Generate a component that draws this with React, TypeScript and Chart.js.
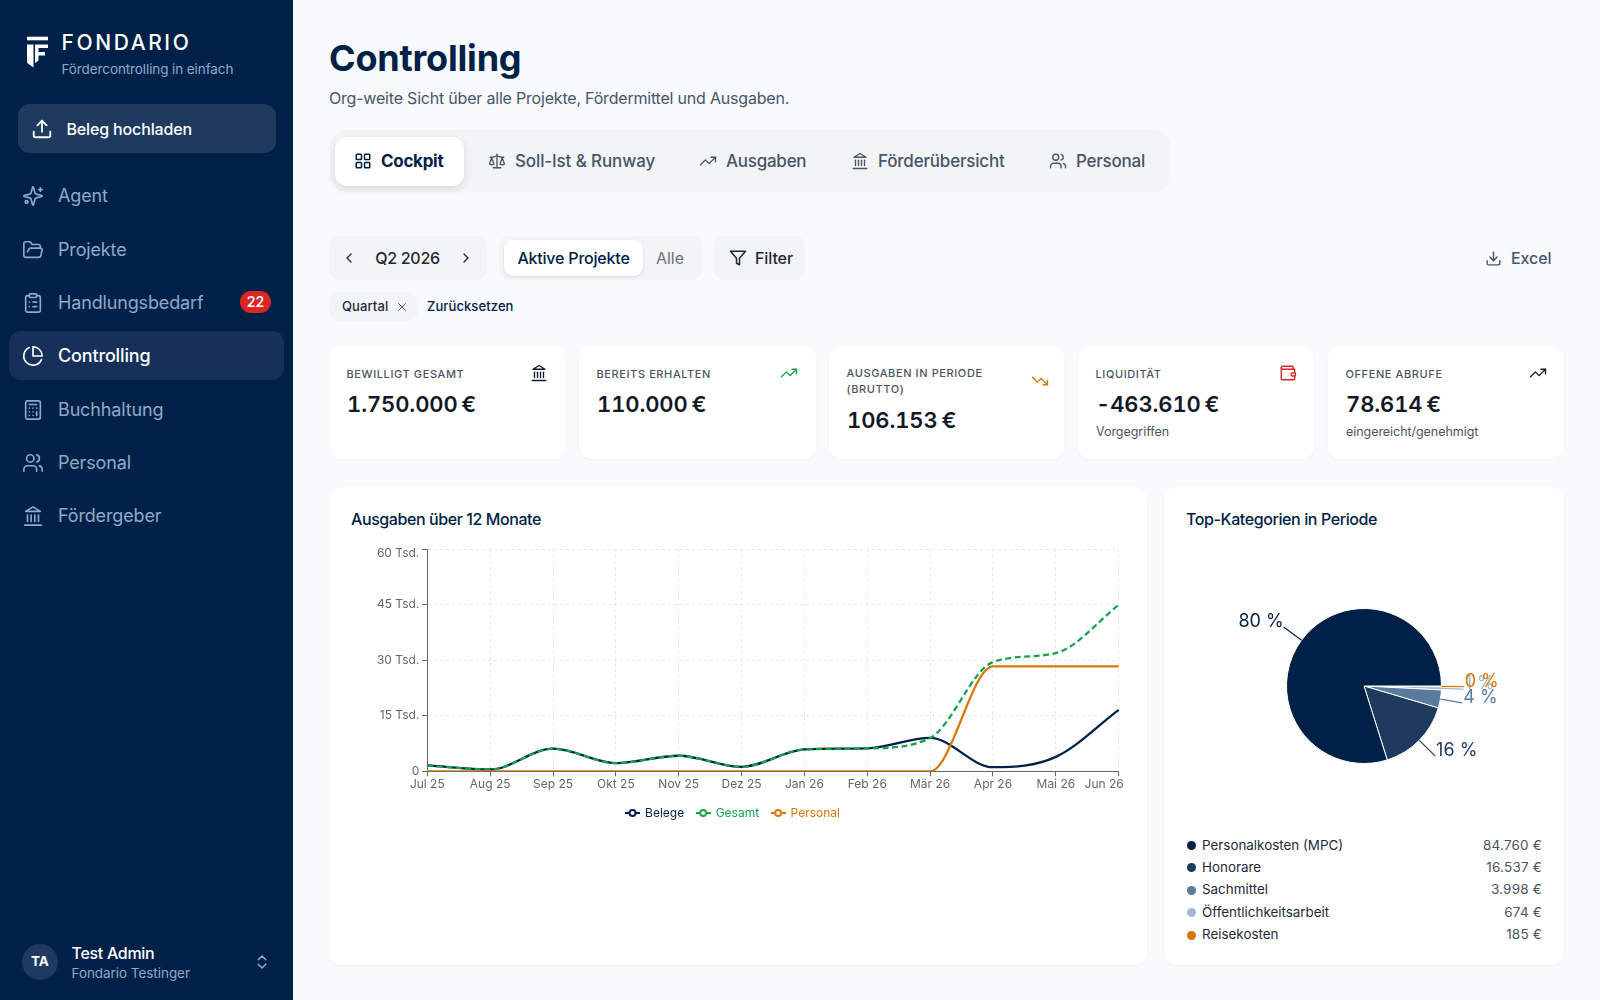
import React, { useEffect, useRef } from "react";
import { Chart, registerables } from "chart.js";

Chart.register(...registerables);

const months = ["Jul 25", "Aug 25", "Sep 25", "Okt 25", "Nov 25", "Dez 25", "Jan 26", "Feb 26", "Mär 26", "Apr 26", "Mai 26", "Jun 26"];
const belege = [1600, 500, 6100, 2200, 4200, 1200, 5900, 6200, 9000, 1100, 3900, 16600];
const gesamt = [1600, 500, 6100, 2200, 4200, 1200, 5900, 6200, 9000, 29500, 31900, 44900];
const personal = [0, 0, 0, 0, 0, 0, 0, 0, 0, 28300, 28300, 28300];
const yTicks = [0, 15000, 30000, 45000, 60000];

const categories = ["Personalkosten (MPC)", "Honorare", "Sachmittel", "Öffentlichkeitsarbeit", "Reisekosten"];
const categoryValues = [84760, 16537, 3998, 674, 185];
const categoryColors = ["#002147", "#1e3a5f", "#5b7a9f", "#a3b8d0", "#d97706"];

const NAVY = "#002147";
const GREEN = "#16a34a";
const ORANGE = "#d97706";
const MUTED = "#8fa9cb";
const FONT = "Inter, 'Noto Sans', sans-serif";

const fmtEuro = (v: number) => v.toLocaleString("de-DE") + " €";

const legendIcon = (color: string) => {
  const c = document.createElement("canvas");
  c.width = 15;
  c.height = 10;
  const x = c.getContext("2d")!;
  x.strokeStyle = color;
  x.lineWidth = 2;
  x.beginPath();
  x.moveTo(0, 5);
  x.lineTo(15, 5);
  x.stroke();
  x.fillStyle = "#fff";
  x.beginPath();
  x.arc(7.5, 5, 3, 0, Math.PI * 2);
  x.fill();
  x.stroke();
  return c;
};

const shiftEdgeLabels = {
  id: "shiftEdgeLabels",
  beforeDraw(chart: any) {
    const xItems = chart.scales.x.getLabelItems();
    const lastX = xItems[xItems.length - 1];
    if (lastX && !lastX.__shifted) {
      lastX.options.translation[0] -= 14.5;
      lastX.__shifted = true;
    }
    const yItems = chart.scales.y.getLabelItems();
    const lastY = yItems[yItems.length - 1];
    if (lastY && !lastY.__shifted) {
      lastY.options.translation[1] += 4.5;
      lastY.__shifted = true;
    }
  },
};

const outLabels = {
  id: "outLabels",
  afterDatasetsDraw(chart: any) {
    const { ctx } = chart;
    const meta = chart.getDatasetMeta(0);
    const data = chart.data.datasets[0].data as number[];
    const colors = chart.data.datasets[0].backgroundColor as string[];
    const total = data.reduce((a, b) => a + b, 0);
    // painted from Personalkosten down to Reisekosten, so that the last one lies on top
    for (let i = data.length - 1; i >= 0; i--) {
      const arc = meta.data[i];
      const { startAngle, endAngle, x, y, outerRadius } = arc.getProps(["startAngle", "endAngle", "x", "y", "outerRadius"], true);
      const mid = (startAngle + endAngle) / 2;
      const ca = Math.cos(mid);
      const sa = Math.sin(mid);
      const x1 = x + ca * outerRadius;
      const y1 = y + sa * outerRadius;
      const x2 = x + ca * (outerRadius + 22.2);
      const y2 = y + sa * (outerRadius + 22.2);
      ctx.save();
      ctx.strokeStyle = colors[i];
      ctx.lineWidth = 1.2;
      ctx.beginPath();
      ctx.moveTo(x1, y1);
      ctx.lineTo(x2, y2);
      ctx.stroke();
      ctx.fillStyle = colors[i];
      ctx.font = `18px ${FONT}`;
      ctx.textBaseline = "middle";
      ctx.textAlign = ca >= 0 ? "left" : "right";
      ctx.fillText(`${Math.round((data[i] / total) * 100)} %`, x2 + (ca >= 0 ? 1 : 0), y2 - 5);
      ctx.restore();
    }
  },
};

const ICONS: Record<string, string[]> = {
  upload: ["M21 15v4a2 2 0 0 1-2 2H5a2 2 0 0 1-2-2v-4", "M17 8l-5-5-5 5", "M12 3v12"],
  sparkles: ["M9.937 15.5A2 2 0 0 0 8.5 14.063l-6.135-1.582a.5.5 0 0 1 0-.962L8.5 9.936A2 2 0 0 0 9.937 8.5l1.582-6.135a.5.5 0 0 1 .963 0L14.063 8.5A2 2 0 0 0 15.5 9.937l6.135 1.581a.5.5 0 0 1 0 .964L15.5 14.063a2 2 0 0 0-1.437 1.437l-1.582 6.135a.5.5 0 0 1-.963 0z", "M20 3v4", "M22 5h-4", "M5 20a1.5 1.5 0 1 0 0-3 1.5 1.5 0 0 0 0 3z"],
  folder: ["m6 14 1.5-2.9A2 2 0 0 1 9.24 10H20a2 2 0 0 1 1.94 2.5l-1.54 6a2 2 0 0 1-1.95 1.5H4a2 2 0 0 1-2-2V5a2 2 0 0 1 2-2h3.9a2 2 0 0 1 1.69.9l.81 1.2a2 2 0 0 0 1.67.9H18a2 2 0 0 1 2 2v2"],
  clipboard: ["M9 2h6a1 1 0 0 1 1 1v2a1 1 0 0 1-1 1H9a1 1 0 0 1-1-1V3a1 1 0 0 1 1-1z", "M16 4h2a2 2 0 0 1 2 2v14a2 2 0 0 1-2 2H6a2 2 0 0 1-2-2V6a2 2 0 0 1 2-2h2", "M12 11h4", "M12 16h4", "M8 11h.01", "M8 16h.01"],
  pie: ["M21.21 15.89A10 10 0 1 1 8 2.83", "M22 12A10 10 0 0 0 12 2v10z"],
  calc: ["M6 2h12a2 2 0 0 1 2 2v16a2 2 0 0 1-2 2H6a2 2 0 0 1-2-2V4a2 2 0 0 1 2-2z", "M8 6h8", "M16 14v4", "M16 10h.01", "M12 10h.01", "M8 10h.01", "M12 14h.01", "M8 14h.01", "M12 18h.01", "M8 18h.01"],
  users: ["M16 21v-2a4 4 0 0 0-4-4H6a4 4 0 0 0-4 4v2", "M9 11a4 4 0 1 0 0-8 4 4 0 0 0 0 8z", "M22 21v-2a4 4 0 0 0-3-3.87", "M16 3.13a4 4 0 0 1 0 7.75"],
  bank: ["M3 22h18", "M6 18v-7", "M10 18v-7", "M14 18v-7", "M18 18v-7", "M12 2l8 5H4z"],
  grid: ["M4 3h5a1 1 0 0 1 1 1v5a1 1 0 0 1-1 1H4a1 1 0 0 1-1-1V4a1 1 0 0 1 1-1z", "M15 3h5a1 1 0 0 1 1 1v5a1 1 0 0 1-1 1h-5a1 1 0 0 1-1-1V4a1 1 0 0 1 1-1z", "M15 14h5a1 1 0 0 1 1 1v5a1 1 0 0 1-1 1h-5a1 1 0 0 1-1-1v-5a1 1 0 0 1 1-1z", "M4 14h5a1 1 0 0 1 1 1v5a1 1 0 0 1-1 1H4a1 1 0 0 1-1-1v-5a1 1 0 0 1 1-1z"],
  scale: ["m16 16 3-8 3 8c-.87.65-1.92 1-3 1s-2.13-.35-3-1Z", "m2 16 3-8 3 8c-.87.65-1.92 1-3 1s-2.13-.35-3-1Z", "M7 21h10", "M12 3v18", "M3 7h2c2 0 5-1 7-2 2 1 5 2 7 2h2"],
  up: ["M22 7l-8.5 8.5-5-5L2 17", "M16 7h6v6"],
  down: ["M22 17l-8.5-8.5-5 5L2 7", "M16 17h6v-6"],
  updown: ["m7 15 5 5 5-5", "m7 9 5-5 5 5"],
  left: ["m15 18-6-6 6-6"],
  right: ["m9 18 6-6-6-6"],
  filter: ["M22 3H2l8 9.46V19l4 2v-8.54z"],
  download: ["M21 15v4a2 2 0 0 1-2 2H5a2 2 0 0 1-2-2v-4", "M7 10l5 5 5-5", "M12 15V3"],
  x: ["M18 6 6 18", "M6 6l12 12"],
  wallet: ["M19 7V4a1 1 0 0 0-1-1H5a2 2 0 0 0 0 4h15a1 1 0 0 1 1 1v4h-3a2 2 0 0 0 0 4h3a1 1 0 0 0 1-1v-2a1 1 0 0 0-1-1", "M3 5v14a2 2 0 0 0 2 2h15a1 1 0 0 0 1-1v-4"],
};

function Icon({ name, cx, cy, size, color, sw = 2 }: { name: string; cx: number; cy: number; size: number; color: string; sw?: number }) {
  return (
    <svg viewBox="0 0 24 24" width={size} height={size} fill="none" stroke={color} strokeWidth={sw} strokeLinecap="round" strokeLinejoin="round"
      style={{ position: "absolute", left: cx - size / 2, top: cy - size / 2 }}>
      {ICONS[name].map((d, i) => <path key={i} d={d} />)}
    </svg>
  );
}

function T({ x, cy, size, color, weight = 400, children, right, center, ls, extra }: any) {
  const style: any = {
    position: "absolute", top: cy, fontSize: size, color, fontWeight: weight, lineHeight: 1, whiteSpace: "nowrap",
    transform: center ? "translate(-50%,-50%)" : "translateY(-50%)", letterSpacing: ls, ...extra,
  };
  if (right) style.right = 1600 - x; else style.left = x;
  return <div style={style}>{children}</div>;
}

function Box({ x, y, w, h, bg, r, shadow }: any) {
  return <div style={{ position: "absolute", left: x, top: y, width: w, height: h, background: bg, borderRadius: r, boxShadow: shadow }} />;
}

const navItems = [
  { label: "Agent", icon: "sparkles", cy: 196 },
  { label: "Projekte", icon: "folder", cy: 249.5 },
  { label: "Handlungsbedarf", icon: "clipboard", cy: 302.5 },
  { label: "Controlling", icon: "pie", cy: 356, active: true },
  { label: "Buchhaltung", icon: "calc", cy: 409.5 },
  { label: "Personal", icon: "users", cy: 463 },
  { label: "Fördergeber", icon: "bank", cy: 516 },
];

const tabs = [
  { label: "Soll-Ist & Runway", icon: "scale", ix: 497, x: 515, ls: -0.12 },
  { label: "Ausgaben", icon: "up", ix: 708, x: 726, ls: -0.25 },
  { label: "Förderübersicht", icon: "bank", ix: 860, x: 878, ls: -0.2 },
  { label: "Personal", icon: "users", ix: 1058, x: 1076, ls: -0.25 },
];

const kpis = [
  { x: 329, w: 237, label: ["BEWILLIGT GESAMT"], value: "1.750.000 €", icon: "bank", ic: "#111827", ix: 539, iy: 373 },
  { x: 579, w: 237, label: ["BEREITS ERHALTEN"], value: "110.000 €", icon: "up", ic: GREEN, ix: 789, iy: 373 },
  { x: 829, w: 235, label: ["AUSGABEN IN PERIODE", "(BRUTTO)"], value: "106.153 €", icon: "down", ic: ORANGE, ix: 1040, iy: 381 },
  { x: 1078, w: 236, label: ["LIQUIDITÄT"], value: "-463.610 €", sub: "Vorgegriffen", icon: "wallet", ic: "#dc2626", ix: 1288, iy: 373 },
  { x: 1328, w: 236, label: ["OFFENE ABRUFE"], value: "78.614 €", sub: "eingereicht/genehmigt", icon: "up", ic: "#111827", ix: 1538, iy: 373 },
];

const CARD_SHADOW = "0 1px 3px rgba(15,23,42,0.04)";

export default function App() {
  const lineRef = useRef<HTMLCanvasElement>(null);
  const pieRef = useRef<HTMLCanvasElement>(null);

  useEffect(() => {
    document.body.style.margin = "0";
    const seriesColors = [NAVY, GREEN, ORANGE];
    const line = new Chart(lineRef.current!, {
      type: "line",
      data: {
        labels: months,
        datasets: [
          { label: "Belege", data: belege, borderColor: NAVY, order: 3 },
          { label: "Gesamt", data: gesamt, borderColor: GREEN, borderDash: [6, 3.5], order: 2 },
          { label: "Personal", data: personal, borderColor: ORANGE, order: 1 },
        ],
      },
      options: {
        animation: false,
        responsive: false,
        maintainAspectRatio: false,
        layout: { padding: { top: 14, right: 9.3, left: 11.3, bottom: 0 } },
        elements: {
          line: { borderWidth: 2.3, cubicInterpolationMode: "monotone", fill: false },
          point: { radius: 0, hoverRadius: 0 },
        },
        plugins: {
          tooltip: { enabled: false },
          legend: {
            position: "bottom",
            labels: {
              usePointStyle: true,
              pointStyleWidth: 13,
              boxHeight: 12,
              padding: 12.5,
              font: { family: FONT, size: 12 },
              generateLabels: (chart: any) =>
                chart.data.datasets.map((d: any, i: number) => ({
                  text: d.label,
                  datasetIndex: i,
                  fontColor: seriesColors[i],
                  pointStyle: legendIcon(seriesColors[i]),
                  lineWidth: 0,
                  hidden: false,
                })),
            },
          },
        },
        scales: {
          x: {
            type: "category",
            offset: false,
            afterFit: (s: any) => { s.height = 23.2; s.paddingLeft = 0; s.paddingRight = 0; },
            border: { color: "#666", width: 1, dash: [3, 3] },
            grid: { color: "#e5e7eb", tickColor: "#666", tickLength: 5, tickBorderDash: [] },
            ticks: { color: "#666", font: { family: FONT, size: 12 }, padding: 1, autoSkip: false, maxRotation: 0 },
          },
          y: {
            min: 0,
            max: 60000,
            afterBuildTicks: (s: any) => { s.ticks = yTicks.map((v) => ({ value: v })); },
            afterFit: (s: any) => { s.width = 80; },
            border: { color: "#666", width: 1, dash: [3, 3] },
            grid: { color: "#e5e7eb", tickColor: "#666", tickLength: 5, tickBorderDash: [] },
            ticks: {
              color: "#666",
              font: { family: FONT, size: 12 },
              padding: 3,
              callback: (v: any) => (v === 0 ? "0" : `${v / 1000} Tsd.`),
            },
          },
        },
      } as any,
      plugins: [shiftEdgeLabels],
    });

    const order = categoryValues.map((_, i) => i).reverse();
    const pie = new Chart(pieRef.current!, {
      type: "pie",
      data: {
        labels: order.map((i) => categories[i]),
        datasets: [{
          data: order.map((i) => categoryValues[i]),
          backgroundColor: order.map((i) => categoryColors[i]),
          borderColor: "#fff",
          borderWidth: 1,
          radius: 77.5,
        } as any],
      },
      options: {
        animation: false,
        responsive: false,
        maintainAspectRatio: false,
        rotation: 90,
        plugins: { legend: { display: false }, tooltip: { enabled: false } },
      } as any,
      plugins: [outLabels],
    });
    return () => { line.destroy(); pie.destroy(); };
  }, []);

  return (
    <div style={{ position: "absolute", left: 0, top: 0, width: 1600, height: 1000, overflow: "hidden", background: "#f8fafc", fontFamily: FONT }}>
      {/* Sidebar */}
      <Box x={0} y={0} w={293} h={1000} bg={NAVY} />
      <svg width={30} height={40} viewBox="0 0 30 40" style={{ position: "absolute", left: 23.5, top: 33 }} fill="#fff">
        <path d="M3 3.7H24V7.3H3z" />
        <path d="M3 11.5H9.5V34.5L3 29.8z" />
        <path d="M11 11.5H24V15H14.5V19H21V22.5H14.5V27.5L11 30z" />
      </svg>
      <T x={61.5} cy={42} size={21} weight={500} color="#fff" ls={2.6}>FONDARIO</T>
      <T x={61.5} cy={69.5} size={13.5} color={MUTED} ls={-0.1}>Fördercontrolling in einfach</T>
      <Box x={18} y={104} w={258} h={49} bg="#1e3a5f" r={12} />
      <Icon name="upload" cx={42} cy={128.5} size={22} color="#fff" />
      <T x={66.5} cy={129} size={16} weight={500} color="#fff" ls={-0.15}>Beleg hochladen</T>
      <Box x={9} y={331} w={275} h={49} bg="#16305a" r={12} />
      {navItems.map((n) => (
        <React.Fragment key={n.label}>
          <Icon name={n.icon} cx={33} cy={n.cy} size={22} color={n.active ? "#fff" : MUTED} sw={1.8} />
          <T x={58} cy={n.cy} size={18} weight={n.active ? 500 : 400} color={n.active ? "#fff" : MUTED} ls={-0.15}>{n.label}</T>
        </React.Fragment>
      ))}
      <Box x={240} y={291} w={31} h={22} bg="#dc2626" r={11} />
      <T x={255.5} cy={302} size={14} weight={600} color="#fff" center>22</T>
      <Box x={22} y={944} w={36} h={36} bg="#1e3a5f" r={18} />
      <T x={40} cy={962} size={13.5} weight={700} color="#fff" center>TA</T>
      <T x={71.5} cy={953} size={16} weight={500} color="#fff" ls={-0.3}>Test Admin</T>
      <T x={71.5} cy={973.5} size={13.5} color={MUTED} ls={-0.05}>Fondario Testinger</T>
      <Icon name="updown" cx={262} cy={962} size={18} color={MUTED} />

      {/* Header */}
      <T x={329} cy={58} size={36} weight={700} color={NAVY} ls={-0.2}>Controlling</T>
      <T x={329} cy={98} size={16} color="#475569" ls={-0.2}>Org-weite Sicht über alle Projekte, Fördermittel und Ausgaben.</T>

      {/* Tabs */}
      <Box x={330} y={130} w={840} h={62} bg="#f3f4f6" r={16} />
      <Box x={335} y={137} w={129} h={49} bg="#fff" r={12} shadow="0 3px 8px rgba(15,23,42,0.12)" />
      <Icon name="grid" cx={363} cy={161} size={18} color={NAVY} />
      <T x={381} cy={161} size={17} weight={700} color={NAVY} ls={-0.3}>Cockpit</T>
      {tabs.map((t) => (
        <React.Fragment key={t.label}>
          <Icon name={t.icon} cx={t.ix} cy={161} size={18} color="#475569" sw={1.8} />
          <T x={t.x} cy={161} size={17} weight={500} color="#475569" ls={t.ls}>{t.label}</T>
        </React.Fragment>
      ))}

      {/* Filters */}
      <Box x={329} y={236} w={158} h={44} bg="#f3f4f6" r={10} />
      <Icon name="left" cx={349} cy={258} size={16} color="#1f2937" />
      <T x={407.5} cy={258} size={16} weight={500} color="#1f2937" center ls={-0.3}>Q2 2026</T>
      <Icon name="right" cx={466} cy={258} size={16} color="#1f2937" />
      <Box x={499} y={236} w={203} h={44} bg="#f3f4f6" r={10} />
      <Box x={504} y={240} w={139} h={36} bg="#fff" r={9} shadow="0 1px 3px rgba(15,23,42,0.12)" />
      <T x={573.5} cy={258} size={16} weight={500} color={NAVY} center ls={-0.2}>Aktive Projekte</T>
      <T x={670} cy={258} size={16} weight={400} color="#6b7280" center>Alle</T>
      <Box x={714} y={236} w={91} h={44} bg="#f3f4f6" r={10} />
      <Icon name="filter" cx={738} cy={258} size={18} color="#1f2937" />
      <T x={755} cy={258} size={16} weight={500} color="#1f2937" ls={-0.1}>Filter</T>
      <Icon name="download" cx={1493} cy={258} size={17} color="#475569" />
      <T x={1511} cy={258} size={16} weight={500} color="#475569" ls={-0.1}>Excel</T>
      <Box x={329} y={292} w={89} h={29} bg="#f3f4f6" r={10} />
      <T x={342} cy={306} size={13} weight={500} color="#1f2937" ls={0.1}>Quartal</T>
      <Icon name="x" cx={402} cy={306.5} size={14} color="#475569" sw={1.6} />
      <T x={427} cy={306} size={13} weight={500} color={NAVY} ls={0.1}>Zurücksetzen</T>

      {/* KPI cards */}
      {kpis.map((k) => {
        const two = k.label.length > 1;
        return (
          <React.Fragment key={k.label[0]}>
            <Box x={k.x} y={346} w={k.w} h={113} bg="#fff" r={12} shadow={CARD_SHADOW} />
            {k.label.map((l, i) => (
              <T key={l} x={k.x + 17.5} cy={two ? 373 + i * 16 : 374} size={11} weight={500} color="#4b5563" ls={0.6}>{l}</T>
            ))}
            <T x={k.x + 18} cy={two ? 420 : 404} size={22} weight={600} color="#111827" ls={-0.1}
              extra={{ fontVariantNumeric: "tabular-nums", wordSpacing: -2 }}>{k.value}</T>
            {k.sub && <T x={k.x + 18} cy={431.5} size={12.5} color="#4b5563" ls={-0.05}>{k.sub}</T>}
            <Icon name={k.icon} cx={k.ix} cy={k.iy} size={18} color={k.ic} sw={1.8} />
          </React.Fragment>
        );
      })}

      {/* Line chart card */}
      <Box x={329} y={487} w={818} h={478} bg="#fff" r={12} shadow={CARD_SHADOW} />
      <T x={351} cy={519} size={16} weight={550} color={NAVY} ls={-0.42}>Ausgaben über 12 Monate</T>
      <canvas ref={lineRef} width={792} height={294} style={{ position: "absolute", left: 336, top: 535, width: 792, height: 294 }} />

      {/* Pie card */}
      <Box x={1164} y={487} w={400} h={478} bg="#fff" r={12} shadow={CARD_SHADOW} />
      <T x={1186} cy={519} size={16} weight={550} color={NAVY} ls={-0.4}>Top-Kategorien in Periode</T>
      <canvas ref={pieRef} width={400} height={232} style={{ position: "absolute", left: 1164, top: 570, width: 400, height: 232 }} />
      {categories.map((c, i) => {
        const cy = 845.5 + i * 22.4;
        return (
          <React.Fragment key={c}>
            <Box x={1186.5} y={cy - 4.5} w={9} h={9} bg={categoryColors[i]} r={5} />
            <T x={1202} cy={cy} size={13.4} color="#1f2937">{c}</T>
            <T x={1542} cy={cy} size={13.5} color="#4b5563" right ls={0.2}>{fmtEuro(categoryValues[i])}</T>
          </React.Fragment>
        );
      })}
    </div>
  );
}
